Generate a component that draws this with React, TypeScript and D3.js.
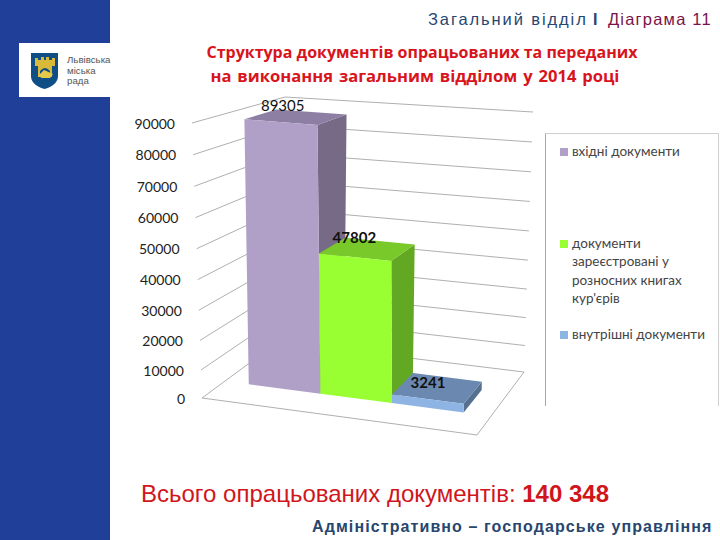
import React from 'react';
import * as d3 from 'd3';

const categories = ['вхідні документи', 'документи зареєстровані у розносних книгах кур\'єрів', 'внутрішні документи'];
const values = [89305, 47802, 3241];
const valueLabels = ['89305', '47802', '3241'];
const ticks = [0, 10000, 20000, 30000, 40000, 50000, 60000, 70000, 80000, 90000];
const legendLines = [['вхідні документи'], ['документи', 'зареєстровані у', 'розносних книгах', "кур'єрів"], ['внутрішні документи']];
const titleLines = ['Структура документів опрацьованих та переданих', 'на виконання загальним відділом у 2014 році'];
const logoLines = ['Львівська', 'міська', 'рада'];

const colors = [
  { front: '#b0a0c8', top: '#8d7fa3', side: '#776a86' },
  { front: '#99ff33', top: '#79c92a', side: '#62a823' },
  { front: '#8db4e3', top: '#6b89b0', side: '#56708f' },
];

const font = 'Lato, "Open Sans", sans-serif';
const arial = '"Liberation Sans", Arial, sans-serif';

// corners of the 3d box on screen: [front-left, front-right, back-left, back-right]
const floor = [[202, 398], [477, 435], [278, 342], [524, 372]];
const roof = [[192, 123], [474, 147], [285, 97], [533, 112]];

const hScale = d3.scalePow().exponent(1.04).domain([0, 90000]).range([0, 1]);
const uScale = d3.scaleBand<number>().domain([0, 1, 2]).range([0.09, 0.897]).padding(0);
const depthFront = 0.3;
const depthBack = 0.66;

function project(u: number, v: number, value: number): [number, number] {
  const h = hScale(value);
  const pt = (c: number[][], i: number) =>
    d3.interpolateNumber(
      d3.interpolateNumber(c[0][i], c[1][i])(u),
      d3.interpolateNumber(c[2][i], c[3][i])(u),
    )(v);
  return [
    d3.interpolateNumber(pt(floor, 0), pt(roof, 0))(h),
    d3.interpolateNumber(pt(floor, 1), pt(roof, 1))(h),
  ];
}

const line = d3.line();

function Bar({ i }: { i: number }) {
  const u0 = uScale(i)!;
  const u1 = u0 + uScale.bandwidth();
  const v = values[i];
  const front = [project(u0, depthFront, v), project(u1, depthFront, v), project(u1, depthFront, 0), project(u0, depthFront, 0)];
  const top = [project(u0, depthFront, v), project(u1, depthFront, v), project(u1, depthBack, v), project(u0, depthBack, v)];
  const side = [project(u1, depthFront, v), project(u1, depthBack, v), project(u1, depthBack, 0), project(u1, depthFront, 0)];
  return (
    <g>
      <path d={line(side) + 'Z'} fill={colors[i].side} />
      <path d={line(top) + 'Z'} fill={colors[i].top} />
      <path d={line(front) + 'Z'} fill={colors[i].front} />
    </g>
  );
}

export default function App() {
  const labelOffsets = [[6, 1], [9, 5], [15, 15]];
  return (
    <svg width={720} height={540} style={{ position: 'absolute', left: 0, top: 0, background: '#fff' }}>
      <rect x={0} y={0} width={110} height={540} fill="#203f99" />
      <rect x={19} y={43} width={91} height={54} fill="#fff" />
      {/* logo shield */}
      <path d="M31 53 H58 V76 Q58 85 44.5 89 Q31 85 31 76 Z" fill="#0f4f86" />
      <path d="M35 66V58H38V60H41V57H44V60H46V57H49V60H52V58H55V66H52V77H38V66Z" fill="#d9b93a" />
      <path d="M40 77V71Q45 65 50 71V77Z" fill="#0f4f86" />
      <path d="M38 76L44 70L53 74L50 78H42Z" fill="#e6c84a" />
      {logoLines.map((t, i) => (
        <text key={t} x={67} y={63 + i * 10.5} fontFamily={arial} fontSize={9.7} fill="#555">{t}</text>
      ))}

      <text x={428} y={25} fontFamily={arial} fontSize={16.5} letterSpacing={1.9} fill="#27466e">Загальний відділ</text>
      <text x={593} y={25} fontFamily={arial} fontWeight={700} fontSize={16} fill="#27466e">I</text>
      <text x={608} y={25} fontFamily={arial} fontSize={16.5} letterSpacing={1.2} fill="#7a1348">Діаграма 11</text>

      {titleLines.map((t, i) => (
        <text key={t} x={i === 1 ? 415 : 422} y={58 + i * 24} textAnchor="middle" fontFamily='"Open Sans", sans-serif' fontWeight={700} fontSize={i === 1 ? 16.6 : 16} wordSpacing={i === 1 ? 1.5 : 0} fill="#d8141c">{t}</text>
      ))}

      {/* walls */}
      <g stroke="#9a9a9a" strokeWidth={0.8} fill="none">
        {ticks.map(t => (
          <path key={t} d={line([project(0, 0, t), project(0, 1, t), project(1, 1, t)])!} />
        ))}
        <path d={line([project(0, 0, 0), project(1, 0, 0), project(1, 1, 0)])!} />
      </g>
      {ticks.map(t => {
        const [x, y] = project(0, 0, t);
        return (
          <text key={t} x={x - 17} y={y + 5.5} textAnchor="end" fontFamily={font} fontSize={14} fill="#222">{t}</text>
        );
      })}

      {categories.map((c, i) => <Bar key={c} i={i} />)}

      {valueLabels.map((t, i) => {
        const [x, y] = project(uScale(i)!, depthBack, values[i]);
        return (
          <text key={t} x={x + labelOffsets[i][0]} y={y + labelOffsets[i][1]} textAnchor="middle" fontFamily={font} fontWeight={i === 0 ? 400 : 700} fontSize={15} fill="#111">{t}</text>
        );
      })}

      {/* legend */}
      <path d="M545.5 406V133.5H718.5V406" fill="#fff" stroke="#cfcfcf" />
      <path d="M545.5 406V133.5" fill="none" stroke="#a8a8a8" />
      {legendLines.map((lines, i) => {
        const y0 = [152, 244, 335][i];
        return (
          <g key={i}>
            <rect x={560} y={y0 - 4} width={8} height={8} fill={colors[i].front} />
            {lines.map((t, j) => (
              <text key={t} x={572} y={y0 + 4 + j * 18.3} fontFamily={font} fontSize={13.5} fill="#444">{t}</text>
            ))}
          </g>
        );
      })}

      <text x={141} y={502} fontFamily={arial} fontSize={24} fill="#d0161c">
        Всього опрацьованих документів: <tspan fontWeight={700}>140 348</tspan>
      </text>
      <text x={312} y={532} fontFamily={arial} fontWeight={700} fontSize={16} letterSpacing={1.1} fill="#27466e">Адміністративно – господарське управління</text>
    </svg>
  );
}
